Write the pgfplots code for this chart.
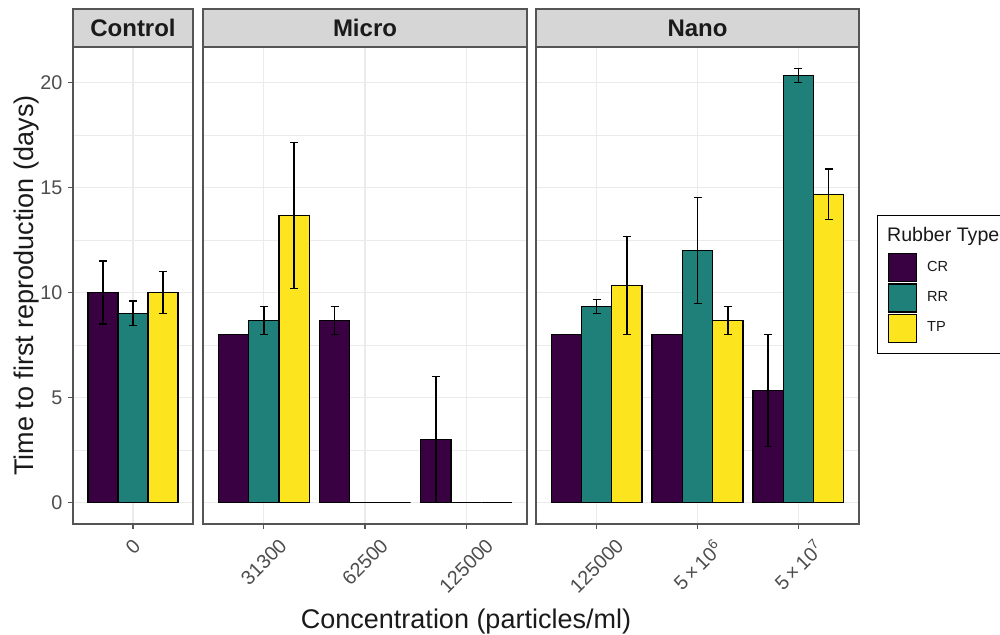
\documentclass[border=0pt]{standalone}
\usepackage{graphicx}
\usepackage{fontspec}
\setmainfont{Liberation Sans}
\usepackage{pgfplots}
\usepackage{pgfplotstable}
\pgfplotsset{compat=1.18}

\definecolor{cCR}{HTML}{3A0142}
\definecolor{cRR}{HTML}{1F8079}
\definecolor{cTP}{HTML}{FCE41F}
\definecolor{gridc}{HTML}{EBEBEB}
\definecolor{frame}{HTML}{555555}
\definecolor{ticktext}{HTML}{4D4D4D}
\definecolor{stripfill}{HTML}{D6D6D6}
\definecolor{striptext}{HTML}{1A1A1A}

% mean time to first reproduction (days) and its error, per rubber type
\pgfplotstableread{
x CR CRe RR RRe TP TPe
1 10 1.5 9 0.58 10 1.0
}\control
\pgfplotstableread{
x CR CRe RR RRe TP TPe
1 8 0 8.67 0.67 13.67 3.48
2 8.67 0.67 0 0 0 0
3 3 3 0 0 0 0
}\micro
\pgfplotstableread{
x CR CRe RR RRe TP TPe
1 8 0 9.33 0.33 10.33 2.33
2 8 0 12 2.52 8.67 0.67
3 5.33 2.67 20.33 0.33 14.67 1.2
}\nano

\pgfplotsset{
  panel/.style={
    scale only axis, height=238.5pt,
    anchor=south west,
    ymin=-1.033, ymax=21.69,
    ybar=0pt,
    ytick={0,5,10,15,20}, minor ytick={2.5,7.5,12.5,17.5},
    xtick={1,2,3},
    ymajorgrids, yminorgrids, xmajorgrids,
    major grid style={draw=gridc, line width=0.55pt},
    minor grid style={draw=gridc, line width=0.3pt},
    axis line style={draw=frame, line width=0.6pt},
    tick align=outside, tick pos=left,
    major tick length=2.6pt, minor tick length=0pt,
    tick style={draw=frame, line width=0.6pt},
    xticklabel style={anchor=north, inner sep=0pt, yshift=-4pt,
      font=\fontsize{9.9}{11}\selectfont, text=ticktext},
    yticklabel style={anchor=east, inner sep=0pt, xshift=-2.5pt,
      font=\fontsize{9.9}{11}\selectfont, text=ticktext},
    error bars/y dir=both, error bars/y explicit,
    error bars/error bar style={line width=0.75pt, draw=black},
    error bars/error mark options={rotate=90, draw=black, line width=0.75pt, mark size=2pt},
  },
  bars/.style={draw=black, line width=0.6pt, fill=#1,
    legend image code/.code={\draw[draw=black, line width=0.6pt, fill=#1] (0pt,-7pt) rectangle (14pt,7pt);
      \path[draw=none, fill=none] (17.5pt,0pt);}},
  lastbars/.style={draw=black, line width=0.6pt, fill=#1,
    legend image code/.code={\draw[draw=black, line width=0.6pt, fill=#1] (0pt,-7pt) rectangle (14pt,7pt);
      \path[draw=none, fill=none] (17.5pt,-8.5pt);}},
}

\begin{document}
\begin{tikzpicture}
\useasboundingbox (0,0) rectangle (500pt,317pt);

% Control
\begin{axis}[panel, at={(36.5pt,55pt)}, width=60pt,
  xmin=0.4, xmax=1.6, bar width=15pt,
  xtick={1}, xticklabels={{\rotatebox{45}{0}}},
  yticklabels={0,5,10,15,20}]
\addplot[bars=cCR] table[x=x, y=CR, y error=CRe] {\control};
\addplot[bars=cRR] table[x=x, y=RR, y error=RRe] {\control};
\addplot[bars=cTP] table[x=x, y=TP, y error=TPe] {\control};
\end{axis}

% Micro
\begin{axis}[panel, at={(101.5pt,55pt)}, width=162pt,
  xmin=0.4, xmax=3.6, bar width=15.19pt,
  xticklabels={{\rotatebox{45}{31300}},{\rotatebox{45}{62500}},{\rotatebox{45}{125000}}},
  yticklabels={}, ytick style={draw=none}]
\addplot[bars=cCR] table[x=x, y=CR, y error=CRe] {\micro};
\addplot[bars=cRR] table[x=x, y=RR, y error=RRe] {\micro};
\addplot[bars=cTP] table[x=x, y=TP, y error=TPe] {\micro};
\end{axis}

% Nano, carrying the legend
\begin{axis}[panel, at={(268pt,55pt)}, width=161.5pt,
  xmin=0.4, xmax=3.6, bar width=15.14pt,
  xticklabels={{\rotatebox{45}{125000}},{\rotatebox{45}{5\,×\,10\textsuperscript{6}}},{\rotatebox{45}{5\,×\,10\textsuperscript{7}}}},
  yticklabels={}, ytick style={draw=none},
  legend style={at={(1.0557,0.6478)}, anchor=north west,
    draw=black, line width=0.5pt, fill=white,
    inner xsep=5pt, inner ysep=4pt,
    font=\fontsize{7.3}{9}\selectfont, text=striptext,
    row sep=0.5pt, cells={anchor=west}},
  legend cell align=left]
\addlegendimage{legend image code/.code={\path[draw=none, fill=none] (0pt,-8pt) -- (17.5pt,-8pt);}}
\addlegendentry{\hspace*{-20pt}\fontsize{9.8}{12}\selectfont Rubber Type}
\addplot[bars=cCR] table[x=x, y=CR, y error=CRe] {\nano};
\addlegendentry{CR}
\addplot[bars=cRR] table[x=x, y=RR, y error=RRe] {\nano};
\addlegendentry{RR}
\addplot[lastbars=cTP] table[x=x, y=TP, y error=TPe] {\nano};
\addlegendentry{TP}
\end{axis}

% facet strips
\begin{scope}[line width=0.6pt]
\filldraw[fill=stripfill, draw=frame] (36.5pt,293.5pt) rectangle (96.5pt,312.5pt);
\filldraw[fill=stripfill, draw=frame] (101.5pt,293.5pt) rectangle (263.5pt,312.5pt);
\filldraw[fill=stripfill, draw=frame] (268pt,293.5pt) rectangle (429.5pt,312.5pt);
\end{scope}
\begin{scope}[every node/.style={font=\bfseries\fontsize{12}{14}\selectfont, text=striptext}]
\node at (66.5pt,303pt) {Control};
\node at (182.5pt,303pt) {Micro};
\node at (348.75pt,303pt) {Nano};
\end{scope}

% axis titles
\node[rotate=90, anchor=base, font=\fontsize{13.5}{16}\selectfont, text=striptext]
  at (16.5pt,174.25pt) {Time to first reproduction (days)};
\node[anchor=base, font=\fontsize{13.5}{16}\selectfont, text=striptext]
  at (233pt,3pt) {Concentration (particles/ml)};
\end{tikzpicture}
\end{document}
